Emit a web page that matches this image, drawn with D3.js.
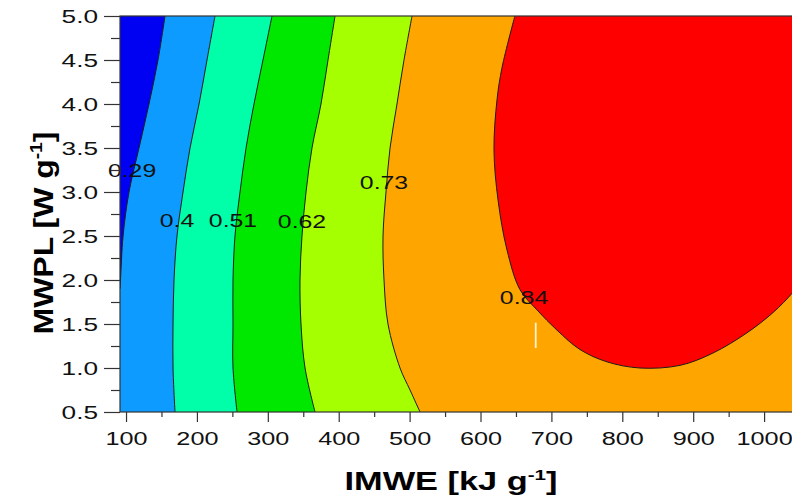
<!DOCTYPE html>
<html>
<head>
<meta charset="utf-8">
<script src="https://cdn.jsdelivr.net/npm/d3@7"></script>
<style>
  body { margin: 0; background: #fff; }
  svg { display: block; font-family: 'Liberation Sans', Arial, sans-serif; }
  .axis path.domain { display: none; }
  .axis line { stroke: #333; stroke-width: 1.2px; }
  .axis text { fill: #111; font-size: 19px; }
  .contour { fill: none; stroke: #1c1c1c; stroke-width: 1px; }
  .clabel { font-size: 18px; fill: #111; }
  .title { font-weight: bold; fill: #000; }
</style>
</head>
<body>
<div id="chart"></div>
<script>
// contour levels and the band colours (below first level .. above last level)
const levels = [0.29, 0.4, 0.51, 0.62, 0.73, 0.84];
const bandColors = ['#0000f2', '#0d9bff', '#00ffa8', '#00e800', '#a6ff00', '#ffa500', '#ff0000'];

// contour lines, from the top edge down: [IMWE, MWPL]
const line029 = [[155.0, 5.0], [145.1, 4.5], [132.4, 4.0], [118.3, 3.5], [104.2, 3.0], [95.8, 2.5], [92.2, 2.0], [91.5, 1.9]];
const line040 = [[225.5, 5.0], [214.2, 4.5], [203.0, 4.0], [190.3, 3.5], [180.4, 3.0], [171.9, 2.5], [167.7, 2.0], [166.3, 1.5], [166.3, 1.0], [169.1, 0.5]];
const line051 = [[305.9, 5.0], [293.2, 4.5], [280.5, 4.0], [269.3, 3.5], [260.8, 3.0], [253.7, 2.5], [250.9, 2.0], [250.9, 1.5], [250.9, 1.0], [256.6, 0.5]];
const line062 = [[394.8, 5.0], [384.9, 4.5], [375.0, 4.0], [362.3, 3.5], [353.9, 3.0], [348.2, 2.5], [345.4, 2.0], [346.8, 1.5], [352.5, 1.0], [366.6, 0.5]];
const line073 = [[503.4, 5.0], [492.1, 4.5], [482.2, 4.0], [472.4, 3.5], [466.7, 3.0], [462.5, 2.5], [463.9, 2.0], [469.5, 1.5], [486.5, 1.0], [500.6, 0.75], [514.7, 0.5]];
const line084 = [[648.5, 5.0], [630.5, 4.42], [623.3, 4.05], [619.0, 3.48], [624.7, 2.91], [637.4, 2.34], [655.7, 1.89], [679.7, 1.66],
  [707.9, 1.43], [740.3, 1.21], [778.4, 1.07], [824.9, 1.0], [881.4, 1.03], [927.9, 1.17], [975.9, 1.4], [1012.6, 1.63], [1039.4, 1.85], [1050, 1.98]];
const contourLines = [line029, line040, line051, line062, line073, line084];

// contour labels
const labelText = ['0.29', '0.4', '0.51', '0.62', '0.73', '0.84'];
const labelX = [108.5, 171.9, 250.9, 348.2, 463.9, 661.4];
const labelY = [3.17, 2.6, 2.6, 2.59, 3.03, 1.73];

// small white mark inside the orange band
const markX = [677.9, 677.9];
const markY = [1.515, 1.227];

const xMajor = [100, 200, 300, 400, 500, 600, 700, 800, 900, 1000];
const xMinor = [150, 250, 350, 450, 550, 650, 750, 850, 950];
const yMajor = [0.5, 1.0, 1.5, 2.0, 2.5, 3.0, 3.5, 4.0, 4.5, 5.0];
const yMinor = [0.75, 1.25, 1.75, 2.25, 2.75, 3.25, 3.75, 4.25, 4.75];

const W = 792, H = 504;
const TEXT_STRETCH = 1.38;
const TICK_STRETCH = 1.33;

const x = d3.scaleLinear().domain([91.5, 1045]).range([120, 796]);
const y = d3.scaleLinear().domain([0.5, 5]).range([412, 16]);
const [xMin, xMax] = x.domain();
const [yMin, yMax] = y.domain();

const svg = d3.select('#chart').append('svg').attr('width', W).attr('height', H);

svg.append('defs').append('clipPath').attr('id', 'plot-clip')
  .append('rect')
  .attr('x', x(xMin)).attr('y', y(yMax))
  .attr('width', x(xMax) - x(xMin)).attr('height', y(yMin) - y(yMax));

const plot = svg.append('g').attr('clip-path', 'url(#plot-clip)');

const curve = d3.line().x((d) => x(d[0])).y((d) => y(d[1])).curve(d3.curveCatmullRom.alpha(0.5));

// base band, lowest values
plot.append('rect')
  .attr('x', x(xMin)).attr('y', y(yMax))
  .attr('width', x(xMax) - x(xMin)).attr('height', y(yMin) - y(yMax))
  .attr('fill', bandColors[0]);

// every region above a level lies right of (or inside) its line, paint them in order
contourLines.forEach((pts, i) => {
  const first = pts[0], last = pts[pts.length - 1];
  const pad = 20;
  let corners;
  if (last[0] >= xMax) {
    corners = [[xMax + pad, last[1]], [xMax + pad, yMax + 1], [first[0], yMax + 1]];
  } else {
    corners = [[last[0], yMin - 1], [xMax + pad, yMin - 1], [xMax + pad, yMax + 1], [first[0], yMax + 1]];
  }
  const path = curve(pts) + corners.map((c) => `L${x(c[0])},${y(c[1])}`).join('') + 'Z';
  plot.append('path').attr('d', path).attr('fill', bandColors[i + 1]);
});

plot.selectAll('.contour')
  .data(contourLines)
  .join('path')
  .attr('class', 'contour')
  .attr('d', curve);

plot.append('line')
  .attr('x1', x(markX[0])).attr('y1', y(markY[0]))
  .attr('x2', x(markX[1])).attr('y2', y(markY[1]))
  .attr('stroke', '#fff3d2').attr('stroke-width', 1.8);

// contour labels (stretched like the rest of the text)
svg.selectAll('.clabel')
  .data(labelText)
  .join('text')
  .attr('class', 'clabel')
  .attr('text-anchor', 'middle')
  .attr('transform', (d, i) => `translate(${x(labelX[i])},${y(labelY[i])}) scale(${TEXT_STRETCH},1)`)
  .text((d) => d);

// frame
svg.append('rect')
  .attr('x', x(xMin)).attr('y', y(yMax))
  .attr('width', x(xMax) - x(xMin)).attr('height', y(yMin) - y(yMax))
  .attr('fill', 'none').attr('stroke', '#333').attr('stroke-width', 1.2);

// axes
svg.append('g')
  .attr('class', 'x axis')
  .attr('transform', `translate(0,${y(yMin)})`)
  .call(d3.axisBottom(x).tickValues(xMinor).tickSize(5).tickFormat(''));

svg.append('g')
  .attr('class', 'x axis')
  .attr('transform', `translate(0,${y(yMin)})`)
  .call(d3.axisBottom(x).tickValues(xMajor).tickSize(10).tickPadding(10).tickFormat(d3.format('d')))
  .call((g) => g.selectAll('.tick text').attr('transform', `scale(${TICK_STRETCH},1)`));

svg.append('g')
  .attr('class', 'y axis')
  .attr('transform', `translate(${x(xMin)},0)`)
  .call(d3.axisLeft(y).tickValues(yMinor).tickSize(9).tickFormat(''));

svg.append('g')
  .attr('class', 'y axis')
  .attr('transform', `translate(${x(xMin)},0)`)
  .call(d3.axisLeft(y).tickValues(yMajor).tickSize(16).tickFormat(d3.format('.1f')))
  .call((g) => g.selectAll('.tick text')
    .attr('x', -22 / TEXT_STRETCH)
    .attr('transform', `scale(${TEXT_STRETCH},1)`));

// axis titles, stretched to the width they take in the original
function title(txt, size, cx, cy, len, rotate) {
  const t = svg.append('text').attr('class', 'title').attr('font-size', size).attr('text-anchor', 'middle');
  t.append('tspan').text(txt);
  t.append('tspan').attr('font-size', size * 0.6).attr('dy', -size * 0.42).text('-1');
  t.append('tspan').attr('dy', size * 0.42).text(']');
  const natural = t.node().getComputedTextLength();
  const s = len / natural;
  t.attr('transform', `translate(${cx},${cy}) rotate(${rotate}) scale(${s},1)`);
}
title('IMWE [kJ g', 25, 451, 490, 213, 0);
title('MWPL [W g', 27, 53, 233, 203, -90);
</script>
</body>
</html>
